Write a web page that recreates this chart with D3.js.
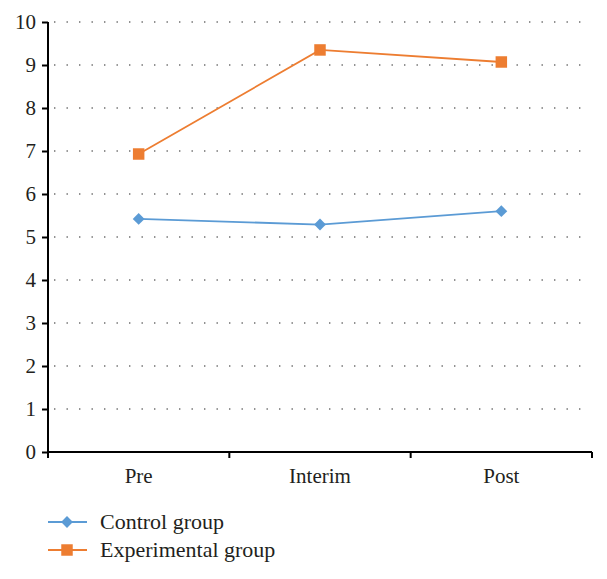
<!DOCTYPE html>
<html><head><meta charset="utf-8"><script src="https://cdn.jsdelivr.net/npm/d3@7"></script></head>
<body style="margin:0">
<svg id="chart" width="607" height="579"></svg>
<script>
const categories = ["Pre", "Interim", "Post"];
const controlValues = [5.42, 5.29, 5.60];
const experimentalValues = [6.93, 9.35, 9.07];
const yTicks = [0, 1, 2, 3, 4, 5, 6, 7, 8, 9, 10];
const seriesNames = ["Control group", "Experimental group"];

const series = [
  { name: seriesNames[0], values: controlValues, color: "#5B9BD5", marker: "diamond" },
  { name: seriesNames[1], values: experimentalValues, color: "#ED7D31", marker: "square" }
];

const FONT = "Liberation Serif";
const TEXTCOL = "#231f20";
const svg = d3.select("#chart");
const plotLeft = 48, plotRight = 592, plotTop = 22, plotBottom = 452;

const x = d3.scaleBand().domain(categories).range([plotLeft, plotRight]).paddingInner(0).paddingOuter(0);
const y = d3.scaleLinear().domain([0, 10]).range([plotBottom, plotTop]);

// gridlines
svg.append("g").selectAll("line").data(yTicks.filter(d => d > 0)).join("line")
  .attr("x1", plotLeft + 6).attr("x2", plotRight - 4)
  .attr("y1", d => y(d)).attr("y2", d => y(d))
  .attr("stroke", "#6d6d6d").attr("stroke-width", 1.6)
  .attr("stroke-dasharray", "1.4,11.1");

// y axis (line + ticks via d3 axis, labels drawn as plain texts)
const yAxis = svg.append("g").attr("transform", `translate(${plotLeft},0)`)
  .call(d3.axisLeft(y).tickValues(yTicks).tickSize(6).tickFormat(""));
yAxis.select(".domain").attr("stroke", "#000").attr("stroke-width", 2).attr("d", `M0,${plotTop}V${plotBottom}`);
yAxis.selectAll(".tick line").attr("stroke", "#000").attr("stroke-width", 2);
yAxis.selectAll(".tick text").remove();
svg.append("g").selectAll("text").data(yTicks).join("text")
  .attr("x", plotLeft - 12).attr("y", d => y(d) + 7)
  .attr("text-anchor", "end").attr("font-size", 21).attr("font-family", FONT)
  .attr("fill", TEXTCOL).text(d => d);

// x axis
const xTickPos = [plotLeft, ...categories.map(c => x(c) + x.bandwidth())];
const xg = svg.append("g");
xg.append("line").attr("x1", plotLeft).attr("x2", plotRight).attr("y1", plotBottom).attr("y2", plotBottom)
  .attr("stroke", "#000").attr("stroke-width", 2);
xg.selectAll("line.tk").data(xTickPos).join("line").attr("class", "tk")
  .attr("x1", d => d).attr("x2", d => d).attr("y1", plotBottom).attr("y2", plotBottom + 6)
  .attr("stroke", "#000").attr("stroke-width", 2);
xg.selectAll("text").data(categories).join("text")
  .attr("x", d => x(d) + x.bandwidth() / 2).attr("y", plotBottom + 31)
  .attr("text-anchor", "middle").attr("font-size", 21).attr("font-family", FONT)
  .attr("fill", TEXTCOL).text(d => d);

// lines and markers
const line = d3.line().x((d, i) => x(categories[i]) + x.bandwidth() / 2).y(d => y(d));
const symDiamond = d3.symbol().type(d3.symbolSquare).size(70);
const symSquare = d3.symbol().type(d3.symbolSquare).size(132);
series.forEach(s => {
  svg.append("path").datum(s.values).attr("d", line)
    .attr("fill", "none").attr("stroke", s.color).attr("stroke-width", 1.8);
  svg.append("g").selectAll("path").data(s.values).join("path")
    .attr("transform", (d, i) => {
      const cx = x(categories[i]) + x.bandwidth() / 2, cy = y(d);
      return s.marker === "diamond" ? `translate(${cx},${cy}) rotate(45)` : `translate(${cx},${cy})`;
    })
    .attr("d", s.marker === "diamond" ? symDiamond : symSquare)
    .attr("fill", s.color);
});

// legend
const lg = svg.append("g");
series.forEach((s, i) => {
  const ly = 522 + i * 28;
  lg.append("line").attr("x1", 48).attr("x2", 87).attr("y1", ly).attr("y2", ly)
    .attr("stroke", s.color).attr("stroke-width", 1.8);
  lg.append("path")
    .attr("transform", s.marker === "diamond" ? `translate(67,${ly}) rotate(45)` : `translate(67,${ly})`)
    .attr("d", s.marker === "diamond" ? symDiamond : symSquare)
    .attr("fill", s.color);
  lg.append("text").attr("x", 100).attr("y", ly + 7).attr("font-size", 22)
    .attr("font-family", FONT).attr("fill", TEXTCOL).text(s.name);
});
</script>
</body>
</html>
